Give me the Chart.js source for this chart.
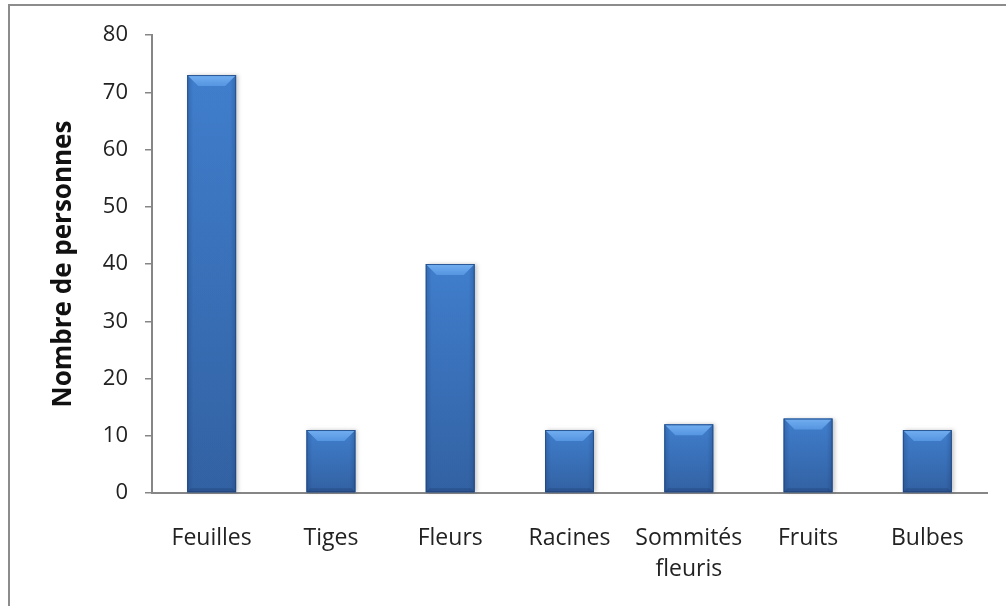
<!DOCTYPE html>
<html>
<head>
<meta charset="utf-8">
<script src="https://cdn.jsdelivr.net/npm/chart.js@4.4.1/dist/chart.umd.min.js"></script>
<style>
  html, body { margin: 0; padding: 0; background: #fff; }
  #wrap { position: relative; width: 1006px; height: 606px; overflow: hidden; }
  #frame { position: absolute; left: 8px; top: 4px; width: 1100px; height: 700px;
           border-top: 2px solid #8c8c8c; border-left: 2px solid #8c8c8c; }
  canvas { position: absolute; left: 0; top: 0; }
</style>
</head>
<body>
<div id="wrap">
  <div id="frame"></div>
  <canvas id="chart" width="1006" height="606"></canvas>
</div>
<script>
const categories = ["Feuilles", "Tiges", "Fleurs", "Racines", ["Sommités", "fleuris"], "Fruits", "Bulbes"];
const personnes = [73, 11, 40, 11, 12, 13, 11];
const yTicks = [0, 10, 20, 30, 40, 50, 60, 70, 80];

const FONT = "'Open Sans', sans-serif";
const AXIS = "#868686";

// shading for the bevelled bars, painted over each bar element
const bevelBars = {
  id: "bevelBars",
  afterDatasetsDraw(chart) {
    const ctx = chart.ctx;
    chart.getDatasetMeta(0).data.forEach(bar => {
      const { x, y, base, width } = bar.getProps(["x", "y", "base", "width"], true);
      const l = x - width / 2, r = x + width / 2, h = base - y;
      const b = Math.min(11, h / 3);
      ctx.save();
      // body
      let g = ctx.createLinearGradient(0, y, 0, base);
      g.addColorStop(0, "#4282d2");
      g.addColorStop(1, "#3464a6");
      ctx.shadowColor = "rgba(0,0,0,0.22)";
      ctx.shadowBlur = 4;
      ctx.shadowOffsetX = 2;
      ctx.fillStyle = g;
      ctx.fillRect(l, y, width, h);
      ctx.shadowColor = "transparent";
      // soft side shading
      const s = 6;
      g = ctx.createLinearGradient(l, 0, r, 0);
      g.addColorStop(0, "rgba(20,50,100,0.3)");
      g.addColorStop(s / width, "rgba(20,50,100,0.05)");
      g.addColorStop(1 - s / width, "rgba(20,50,100,0.05)");
      g.addColorStop(1, "rgba(20,50,100,0.3)");
      ctx.fillStyle = g;
      ctx.fillRect(l, y, width, h);
      // top bevel
      g = ctx.createLinearGradient(0, y, 0, y + b);
      g.addColorStop(0, "#72aef0");
      g.addColorStop(0.6, "#619fe7");
      g.addColorStop(1, "#5595e0");
      ctx.fillStyle = g;
      ctx.beginPath();
      ctx.moveTo(l + 1, y + 1); ctx.lineTo(r - 1, y + 1); ctx.lineTo(r - b, y + b); ctx.lineTo(l + b, y + b);
      ctx.closePath(); ctx.fill();
      // bottom bevel
      ctx.fillStyle = "rgba(20,45,90,0.25)";
      ctx.beginPath();
      ctx.moveTo(l, base); ctx.lineTo(l + 4, base - 4); ctx.lineTo(r - 4, base - 4); ctx.lineTo(r, base);
      ctx.closePath(); ctx.fill();
      // outline
      ctx.strokeStyle = "rgba(30,60,110,0.55)";
      ctx.lineWidth = 1;
      ctx.strokeRect(l + 0.5, y + 0.5, width - 1, h - 1);
      ctx.restore();
    });
  }
};

new Chart(document.getElementById("chart"), {
  type: "bar",
  data: {
    labels: categories,
    datasets: [{
      data: personnes,
      backgroundColor: "#3f7ed0",
      categoryPercentage: 1,
      barPercentage: 0.41
    }]
  },
  options: {
    responsive: false,
    animation: false,
    layout: { padding: { top: 35, right: 19, bottom: 0, left: 0 } },
    plugins: { legend: { display: false }, tooltip: { enabled: false } },
    scales: {
      x: {
        grid: { display: false },
        border: { color: AXIS, width: 2 },
        ticks: {
          color: "#222",
          font: { family: FONT, size: 23, lineHeight: 1.35 },
          padding: 22,
          maxRotation: 0,
          autoSkip: false
        },
        afterFit(s) { s.height = 113; }
      },
      y: {
        min: 0,
        max: 80,
        afterBuildTicks(s) { s.ticks = yTicks.map(v => ({ value: v })); },
        grid: { drawOnChartArea: false, color: AXIS, tickLength: 7, lineWidth: 1.5 },
        border: { color: AXIS, width: 2 },
        ticks: { color: "#222", font: { family: FONT, size: 22 }, padding: 17 },
        title: {
          display: true,
          text: "Nombre de personnes",
          color: "#111",
          font: { family: FONT, size: 26, weight: "bold" },
          padding: { top: 48 }
        },
        afterFit(s) { s.width = 152; }
      }
    }
  },
  plugins: [bevelBars]
});
</script>
</body>
</html>
